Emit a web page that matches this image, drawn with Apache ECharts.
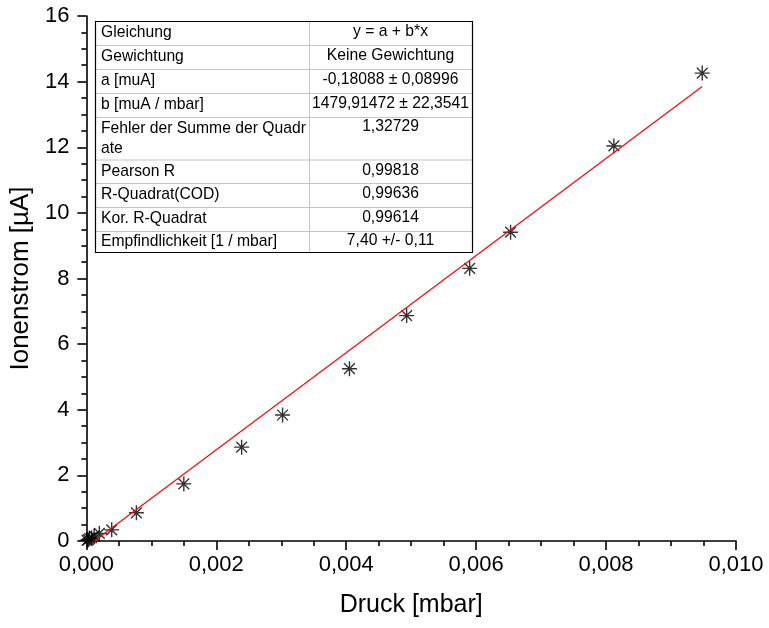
<!DOCTYPE html>
<html>
<head>
<meta charset="utf-8">
<script src="https://cdn.jsdelivr.net/npm/echarts@6/dist/echarts.min.js"></script>
<style>
  html, body { margin: 0; padding: 0; background: #fff; }
  #chart { width: 769px; height: 628px; }
</style>
</head>
<body>
<div id="chart"></div>
<script>
// measured points: pressure in mbar, ion current in µA
const pressure = [0.00001, 0.00003, 0.00005, 0.00008, 0.00012, 0.00020, 0.00039, 0.00077,
  0.00150, 0.00239, 0.00302, 0.00405, 0.00493, 0.00590, 0.00653, 0.00812, 0.00948]
const current = [0.02, 0.04, 0.07, 0.10, 0.15, 0.23, 0.34, 0.86,
  1.74, 2.86, 3.84, 5.25, 6.87, 8.31, 9.41, 12.04, 14.26]

// linear fit y = a + b*x, drawn between first and last pressure
const fitX = [0.00001, 0.00948]
const fitY = [-0.166, 13.85]

const tableLabels = [
  'Gleichung', 'Gewichtung', 'a [muA]', 'b [muA / mbar]',
  'Fehler der Summe der Quadr\nate', 'Pearson R', 'R-Quadrat(COD)',
  'Kor. R-Quadrat', 'Empfindlichkeit [1 / mbar]'
]
const tableValues = [
  'y = a + b*x', 'Keine Gewichtung', '-0,18088 \u00b1 0,08996', '1479,91472 \u00b1 22,3541',
  '1,32729', '0,99818', '0,99636', '0,99614', '7,40 +/- 0,11'
]

const fontFamily = 'Arial, "Liberation Sans", sans-serif'
const comma = (v, d) => v.toFixed(d).replace('.', ',')

// table graphic
const tLeft = 95, tMid = 309, tRight = 472, tTop = 21
const rowH = [24, 24, 24, 24, 42.5, 23.5, 24, 24, 21]
const tableFont = '15.7px ' + fontFamily
const graphic = []
let y = tTop
rowH.forEach((h, i) => {
  if (i > 0) {
    graphic.push({
      type: 'line', silent: true,
      shape: { x1: tLeft, y1: y + 0.5, x2: tRight, y2: y + 0.5 },
      style: { stroke: '#c4c4c4', lineWidth: 1 }
    })
  }
  const tall = h > 30
  graphic.push({
    type: 'text', silent: true,
    x: tLeft + 6, y: tall ? y + 2 : y + h / 2,
    style: {
      text: tableLabels[i], fill: '#000', font: tableFont,
      verticalAlign: tall ? 'top' : 'middle', lineHeight: 20
    }
  })
  graphic.push({
    type: 'text', silent: true,
    x: (tMid + tRight) / 2, y: tall ? y + 2 : y + h / 2 - 1,
    style: {
      text: tableValues[i], fill: '#000', font: tableFont,
      align: 'center', verticalAlign: tall ? 'top' : 'middle'
    }
  })
  y += h
})
graphic.push({
  type: 'line', silent: true,
  shape: { x1: tMid + 0.5, y1: tTop, x2: tMid + 0.5, y2: y },
  style: { stroke: '#c4c4c4', lineWidth: 1 }
})
graphic.push({
  type: 'rect', silent: true,
  shape: { x: tLeft + 0.5, y: tTop + 0.5, width: tRight - tLeft, height: y - tTop },
  style: { fill: 'none', stroke: '#000', lineWidth: 1.2 }
})

const chart = echarts.init(document.getElementById('chart'))
const option = {
  animation: false,
  backgroundColor: '#fff',
  grid: { left: 86, right: 33, top: 16, bottom: 87, containLabel: false },
  xAxis: {
    type: 'value',
    min: 0,
    max: 0.01,
    interval: 0.002,
    name: 'Druck [mbar]',
    nameLocation: 'middle',
    nameGap: 52,
    nameTextStyle: { color: '#000', fontSize: 25, fontFamily: fontFamily },
    axisLine: { show: true, onZero: false, lineStyle: { color: '#000', width: 1.6 } },
    axisTick: { show: true, inside: false, length: 9, lineStyle: { color: '#000', width: 1.6 } },
    minorTick: { show: true, splitNumber: 4, length: 5, lineStyle: { color: '#000', width: 1.6 } },
    splitLine: { show: false },
    axisLabel: {
      color: '#000', fontSize: 22, fontFamily: fontFamily, margin: 13,
      formatter: v => comma(v, 3)
    }
  },
  yAxis: {
    type: 'value',
    min: 0,
    max: 16,
    interval: 2,
    name: 'Ionenstrom [\u00b5A]',
    nameLocation: 'middle',
    nameGap: 50,
    nameTextStyle: { color: '#000', fontSize: 26, fontFamily: fontFamily },
    axisLine: { show: true, onZero: false, lineStyle: { color: '#000', width: 1.6 } },
    axisTick: { show: true, inside: false, length: 9, lineStyle: { color: '#000', width: 1.6 } },
    minorTick: { show: true, splitNumber: 4, length: 5, lineStyle: { color: '#000', width: 1.6 } },
    splitLine: { show: false },
    axisLabel: {
      color: '#000', fontSize: 22, fontFamily: fontFamily, margin: 17,
      formatter: v => String(v)
    }
  },
  series: [
    {
      type: 'scatter',
      data: pressure.map((p, i) => [p, current[i]]),
      symbol: 'path://M0,-6L0,6M-6,0L6,0M-4.3,-4.3L4.3,4.3M-4.3,4.3L4.3,-4.3',
      symbolSize: 15,
      itemStyle: { color: 'none', borderColor: '#000', borderWidth: 1.4 },
      z: 2
    },
    {
      type: 'line',
      data: fitX.map((x, i) => [x, fitY[i]]),
      symbol: 'none',
      clip: true,
      lineStyle: { color: '#ff0000', width: 1.2 },
      z: 3
    }
  ],
  graphic: graphic
}
chart.setOption(option)
</script>
</body>
</html>
